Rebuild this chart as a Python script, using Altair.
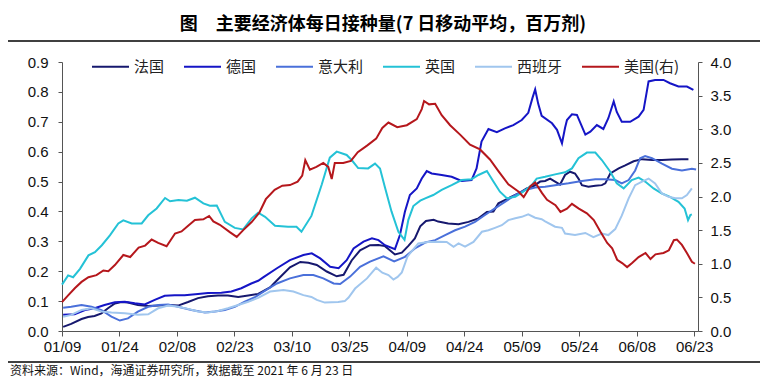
import altair as alt
import pandas as pd

BASE = pd.Timestamp("2021-01-09")

names = ["法国", "德国", "意大利", "英国", "西班牙", "美国(右)"]
colors = ["#16186E", "#1515C6", "#4A70DA", "#24C2D6", "#A0C6EE", "#B5171C"]

fr_days = [0.3, 2.4, 5.1, 6.8, 8.5, 10.3, 12, 13.8, 15.5, 17.2, 19.8, 22.5, 25.1, 27.7, 30.3, 32.9, 35.5, 38.1,
           40.7, 43.3, 46, 48.6, 51.2, 54.3, 56.9, 59.5, 62.2, 64.3, 66.5, 69.1, 71.7, 73.5, 75.6, 77.8, 80.4,
           82.6, 84.3, 86.9, 88.7, 90.4, 92.1, 93.5, 95, 97, 98.2, 100.8, 103.5, 106.1, 108.7, 110.9, 112.6,
           113.9, 116.5, 119.1, 121.3, 123, 124.8, 126.1, 127.4, 128.7, 130, 131.3, 132.6, 133.9, 134.8, 135.7,
           137.4, 139.2, 140.9, 141.8, 143.1, 145.3, 147, 149.2, 151.4, 154, 156.6, 159.2, 161.8, 163.5]
fr_vals = [0.014, 0.024, 0.04, 0.047, 0.05, 0.059, 0.076, 0.092, 0.097, 0.095, 0.087, 0.084, 0.085, 0.087, 0.085,
           0.097, 0.11, 0.116, 0.119, 0.119, 0.114, 0.119, 0.124, 0.146, 0.18, 0.213, 0.231, 0.228, 0.221, 0.199,
           0.183, 0.188, 0.236, 0.27, 0.287, 0.288, 0.284, 0.256, 0.262, 0.285, 0.31, 0.35, 0.368, 0.372, 0.366,
           0.36, 0.357, 0.365, 0.377, 0.398, 0.4, 0.427, 0.444, 0.46, 0.477, 0.484, 0.5, 0.502, 0.51, 0.5, 0.49,
           0.522, 0.533, 0.527, 0.51, 0.488, 0.483, 0.486, 0.488, 0.494, 0.527, 0.544, 0.554, 0.568, 0.575, 0.572,
           0.572, 0.574, 0.575, 0.575]

de_days = [0.3, 3.3, 6, 8.5, 11.1, 13.8, 16.4, 19, 21.6, 24.2, 26.8, 29.4, 32, 35.5, 38.1, 41.6, 44.2, 46.8, 49.4,
           51.2, 52.6, 56.1, 59.5, 63, 65.2, 67.4, 70, 72.2, 74.3, 76.1, 78.7, 80.9, 82.6, 84.3, 86.9, 88.2, 89.5,
           90.8, 92.6, 93.9, 95.2, 96.5, 99.1, 101.7, 104.3, 106.9, 108.2, 109.5, 111.3, 113.5, 115.6, 117.8, 120,
           121.7, 122.8, 123.5, 124.3, 125.2, 127.9, 129.2, 130.5, 131.3, 131.8, 133.1, 134.4, 136.6, 137.9, 139.6,
           141.3, 142.6, 144, 144.8, 146.1, 148.3, 150.5, 151.8, 153.1, 154.8, 157, 158.7, 160.9, 163.1, 164.8]
de_vals = [0.054, 0.056, 0.07, 0.076, 0.087, 0.096, 0.098, 0.093, 0.089, 0.104, 0.118, 0.12, 0.12, 0.124, 0.127,
           0.128, 0.132, 0.143, 0.159, 0.168, 0.18, 0.21, 0.237, 0.254, 0.26, 0.243, 0.215, 0.21, 0.237, 0.276,
           0.299, 0.31, 0.304, 0.287, 0.274, 0.321, 0.399, 0.455, 0.477, 0.51, 0.535, 0.527, 0.522, 0.516, 0.502,
           0.505, 0.544, 0.634, 0.676, 0.665, 0.678, 0.689, 0.706, 0.73, 0.78, 0.808, 0.76, 0.72, 0.695, 0.673,
           0.628, 0.68, 0.706, 0.725, 0.723, 0.657, 0.667, 0.689, 0.676, 0.712, 0.768, 0.733, 0.7, 0.7, 0.717,
           0.74, 0.835, 0.84, 0.84, 0.829, 0.818, 0.818, 0.807]

it_days = [0.3, 2.4, 5.1, 7.7, 10.3, 12.9, 15.1, 17.2, 19.8, 22.5, 25.1, 27.7, 30.3, 33.8, 37.3, 39.9, 42.5, 45.1,
           47.7, 50.2, 52.6, 56.1, 59.5, 63, 65.6, 68.2, 70.9, 72.6, 75.2, 77.8, 80.4, 83.9, 86.7, 89.5, 92.1,
           94.8, 97.4, 100, 102.6, 105.2, 107.8, 110.4, 113, 115.6, 118.3, 120.9, 123.5, 126.1, 128.7, 132.2,
           135.7, 139.2, 141.8, 144.4, 146.1, 147.9, 149.6, 150.9, 152.2, 154, 156.6, 159.2, 161.8, 164.4, 165.5]
it_vals = [0.078, 0.081, 0.087, 0.081, 0.07, 0.048, 0.035, 0.042, 0.065, 0.081, 0.087, 0.089, 0.081, 0.07, 0.062,
           0.065, 0.07, 0.081, 0.098, 0.112, 0.132, 0.159, 0.176, 0.187, 0.187, 0.176, 0.159, 0.157, 0.182, 0.215,
           0.232, 0.25, 0.233, 0.248, 0.276, 0.296, 0.304, 0.321, 0.337, 0.349, 0.365, 0.388, 0.41, 0.432, 0.455,
           0.472, 0.48, 0.483, 0.488, 0.494, 0.502, 0.508, 0.508, 0.505, 0.494, 0.505, 0.537, 0.578, 0.585, 0.578,
           0.56, 0.543, 0.537, 0.543, 0.54]

uk_days = [0, 1.6, 2.9, 4.7, 6.9, 8.6, 10.4, 12.5, 14.7, 16, 18.2, 20.8, 22.5, 24.7, 26.9, 28.2, 30.4, 32.6, 34.7,
           36.9, 38.6, 40.4, 42.5, 45.1, 47.3, 49.5, 51.2, 53, 55.6, 59, 61.2, 62.5, 65.1, 67.8, 69.9, 71.7, 74.3,
           75.6, 77.3, 79.9, 81.7, 83, 84.3, 86, 87.8, 89.4, 90.4, 91.7, 93.5, 94.8, 96.9, 99.1, 101.7, 104.3,
           106.9, 108.7, 110.9, 112.6, 114.3, 116.1, 118.3, 120.4, 122.6, 123.9, 126.1, 128.7, 131.3, 133.1, 134.8,
           137, 139.2, 140.9, 143.1, 144.8, 146.6, 148.7, 150.5, 152.2, 154.4, 156.6, 158.7, 160.9, 162.5, 163.4,
           164, 164.4]
uk_vals = [0.155, 0.186, 0.18, 0.208, 0.253, 0.264, 0.287, 0.32, 0.36, 0.37, 0.36, 0.36, 0.387, 0.41, 0.445, 0.434,
           0.438, 0.436, 0.446, 0.427, 0.419, 0.42, 0.365, 0.345, 0.34, 0.377, 0.396, 0.382, 0.352, 0.349, 0.349,
           0.332, 0.385, 0.49, 0.58, 0.6, 0.589, 0.572, 0.545, 0.544, 0.56, 0.544, 0.48, 0.4, 0.332, 0.305, 0.372,
           0.418, 0.436, 0.444, 0.455, 0.472, 0.488, 0.505, 0.508, 0.522, 0.535, 0.5, 0.466, 0.444, 0.449, 0.466,
           0.488, 0.51, 0.516, 0.524, 0.531, 0.544, 0.578, 0.597, 0.597, 0.572, 0.533, 0.494, 0.477, 0.505, 0.513,
           0.5, 0.477, 0.46, 0.449, 0.432, 0.41, 0.371, 0.388, 0.39]

es_days = [0.3, 2.4, 5.1, 7.7, 10.3, 12.9, 16.4, 19.8, 22.5, 25.1, 27.7, 30.3, 32.9, 35.5, 38.1, 40.7, 43.3, 46,
           48.6, 51.2, 54.3, 57.8, 60.4, 63, 65.1, 66.5, 68.6, 72.1, 73.8, 74.8, 76.5, 79.6, 82, 83.6, 85.2, 86.5,
           87.6, 88.7, 90.2, 93, 95.6, 98.2, 100.4, 102.2, 103.5, 105.2, 107.4, 109.6, 111.3, 113, 114.8, 116.5,
           118.3, 120, 121.7, 123.5, 125.2, 126.1, 128.7, 130.5, 131.3, 133.9, 136.6, 138.7, 140.9, 142.6, 144.4,
           146.1, 147.9, 149.6, 151.4, 153.1, 154.8, 156.6, 158.3, 160.1, 161.8, 163.1, 164.4]
es_vals = [0.048, 0.054, 0.07, 0.076, 0.065, 0.062, 0.059, 0.054, 0.056, 0.076, 0.085, 0.081, 0.074, 0.065, 0.062,
           0.067, 0.076, 0.087, 0.098, 0.111, 0.132, 0.137, 0.132, 0.12, 0.114, 0.104, 0.095, 0.097, 0.1, 0.112,
           0.142, 0.176, 0.212, 0.195, 0.187, 0.172, 0.181, 0.196, 0.25, 0.293, 0.298, 0.299, 0.298, 0.282, 0.293,
           0.282, 0.298, 0.332, 0.337, 0.345, 0.354, 0.371, 0.377, 0.382, 0.39, 0.379, 0.374, 0.367, 0.349, 0.345,
           0.326, 0.321, 0.328, 0.314, 0.326, 0.321, 0.341, 0.386, 0.444, 0.488, 0.5, 0.51, 0.494, 0.46, 0.449,
           0.444, 0.444, 0.455, 0.477]

us_days = [0, 1.6, 3.4, 5.1, 6.9, 9, 10.8, 12.1, 13.8, 16, 17.8, 20, 21.7, 23.4, 25.1, 27.3, 29.5, 31.2, 33, 34.7,
           36.9, 38.4, 39.5, 41.2, 43.8, 45.6, 47.3, 49.5, 51.5, 53.2, 55.5, 57.5, 59.5, 61.5, 62.7, 63.5, 64.7,
           66.4, 68.2, 69.5, 70.4, 71.2, 73.4, 75.4, 77.2, 79.7, 82, 83.6, 85.2, 87.5, 90, 92.6, 93.9, 94.5, 95.8,
           97.4, 99.1, 101.3, 103.9, 106.5, 109.1, 111.7, 114, 116.5, 119.2, 120.5, 122.2, 123.5, 125.3, 126.6,
           128.8, 130.1, 131.8, 133.1, 134.9, 137, 138.8, 140.5, 142.3, 143.6, 144.9, 146.2, 147.5, 148.8, 150.5,
           152.3, 153.6, 154.9, 157, 158.4, 159.7, 160.5, 161.8, 163.1, 164.4, 165.2]
us_vals = [0.43, 0.53, 0.64, 0.73, 0.8, 0.83, 0.9, 0.89, 0.98, 1.13, 1.1, 1.24, 1.27, 1.36, 1.31, 1.26, 1.45, 1.48,
           1.57, 1.65, 1.66, 1.71, 1.63, 1.58, 1.47, 1.4, 1.5, 1.62, 1.76, 1.96, 2.1, 2.16, 2.17, 2.22, 2.31, 2.54,
           2.4, 2.44, 2.5, 2.44, 2.26, 2.5, 2.5, 2.53, 2.66, 2.76, 2.86, 3.02, 3.1, 3.03, 3.06, 3.15, 3.3, 3.42,
           3.37, 3.38, 3.21, 3.06, 2.92, 2.77, 2.7, 2.55, 2.37, 2.18, 2.07, 1.99, 2.15, 2.21, 2.05, 1.95, 1.87,
           1.77, 1.82, 1.89, 1.82, 1.75, 1.65, 1.48, 1.31, 1.23, 1.06, 1.01, 0.95, 1.01, 1.1, 1.16, 1.07, 1.14,
           1.16, 1.2, 1.35, 1.36, 1.28, 1.16, 1.03, 1.0]

x_ticks = ["01/09", "01/24", "02/08", "02/23", "03/10", "03/25", "04/09", "04/24", "05/09", "05/24", "06/08", "06/23"]

title_text = "图\u2002\u2002主要经济体每日接种量(7 日移动平均，百万剂)"
source_text = "资料来源：Wind，海通证券研究所，数据截至 2021 年 6 月 23 日"


def frame(name, days, vals):
    d = pd.DataFrame({"day": days, "value": vals})
    d["date"] = (BASE + pd.to_timedelta(d["day"], unit="D")).dt.strftime("%Y-%m-%dT%H:%M:%SZ")
    d["country"] = name
    return d


left_df = pd.concat([frame(names[0], fr_days, fr_vals), frame(names[1], de_days, de_vals),
                     frame(names[2], it_days, it_vals), frame(names[3], uk_days, uk_vals),
                     frame(names[4], es_days, es_vals)], ignore_index=True)
right_df = frame(names[5], us_days, us_vals)

tick_dates = [alt.DateTime(year=2021, month=int(t[:2]), date=int(t[3:]), utc=True) for t in x_ticks]

AX_FONT = "Liberation Sans"
AX_SIZE = 15

x_enc = alt.X("date:T",
              scale=alt.Scale(type="utc", domain=[alt.DateTime(year=2021, month=1, date=9, utc=True),
                                                   alt.DateTime(year=2021, month=6, date=24, utc=True)]),
              axis=alt.Axis(values=tick_dates, format="%m/%d", title=None, grid=False, labelFontSize=AX_SIZE,
                            labelFont=AX_FONT, labelColor="#111", tickSize=5, labelPadding=3,
                            labelFlush=False, labelOverlap=False,
                            domainColor="#555", tickColor="#555"))

color_enc = alt.Color("country:N",
                      scale=alt.Scale(domain=names, range=colors),
                      legend=alt.Legend(title=None, orient="none", direction="horizontal", legendX=29,
                                        legendY=-15, symbolType="stroke", symbolSize=1369,
                                        symbolStrokeWidth=2, labelFont="Noto Sans CJK SC",
                                        labelFontSize=15, labelColor="#222", columnPadding=15,
                                        labelOffset=4))

left = alt.Chart(left_df).mark_line(strokeWidth=2).encode(
    x=x_enc,
    y=alt.Y("value:Q", scale=alt.Scale(domain=[0, 0.9], nice=False),
            axis=alt.Axis(orient="left", values=[i / 10 for i in range(10)], format=".1f", title=None,
                          grid=False, labelFontSize=AX_SIZE, labelFont=AX_FONT, labelColor="#111",
                          tickSize=4, labelPadding=10, domainColor="#555", tickColor="#555")),
    color=color_enc,
    detail="country:N",
)

right = alt.Chart(right_df).mark_line(strokeWidth=2).encode(
    x=x_enc,
    y=alt.Y("value:Q", scale=alt.Scale(domain=[0, 4], nice=False),
            axis=alt.Axis(orient="right", values=[i / 2 for i in range(9)], format=".1f", title=None,
                          grid=False, labelFontSize=AX_SIZE, labelFont=AX_FONT, labelColor="#111",
                          tickSize=4, labelPadding=8, domainColor="#555", tickColor="#555")),
    color=color_enc,
)

title_layer = alt.Chart(pd.DataFrame({"t": [title_text]})).mark_text(
    font="Noto Sans CJK SC", fontSize=18, fontWeight="bold", color="#000", align="center", baseline="middle"
).encode(text="t:N", x=alt.value(321), y=alt.value(-37))

source_layer = alt.Chart(pd.DataFrame({"t": [source_text]})).mark_text(
    font="Noto Sans CJK SC", fontSize=12, color="#111", align="left", baseline="middle"
).encode(text="t:N", x=alt.value(-52), y=alt.value(309))

rules_df = pd.DataFrame({"k": [0]})
rule_top = alt.Chart(rules_df).mark_rule(color="#000", strokeWidth=1.5).encode(
    x=alt.value(-62), x2=alt.value(706), y=alt.value(-55))
rule_mid = alt.Chart(rules_df).mark_rule(color="#000", strokeWidth=1.5).encode(
    x=alt.value(-62), x2=alt.value(706), y=alt.value(-21))
rule_bot = alt.Chart(rules_df).mark_rule(color="#000", strokeWidth=1.5).encode(
    x=alt.value(-62), x2=alt.value(706), y=alt.value(300))

chart = alt.layer(left, right, title_layer, source_layer, rule_top, rule_mid, rule_bot).resolve_scale(
    y="independent"
).properties(
    width=636, height=269,
    autosize=alt.AutoSizeParams(type="none"),
    padding={"left": 54, "top": 54, "right": 62, "bottom": 46},
).configure_view(strokeWidth=0)

chart.save("out.html", embed_options={"renderer": "svg", "actions": False})
